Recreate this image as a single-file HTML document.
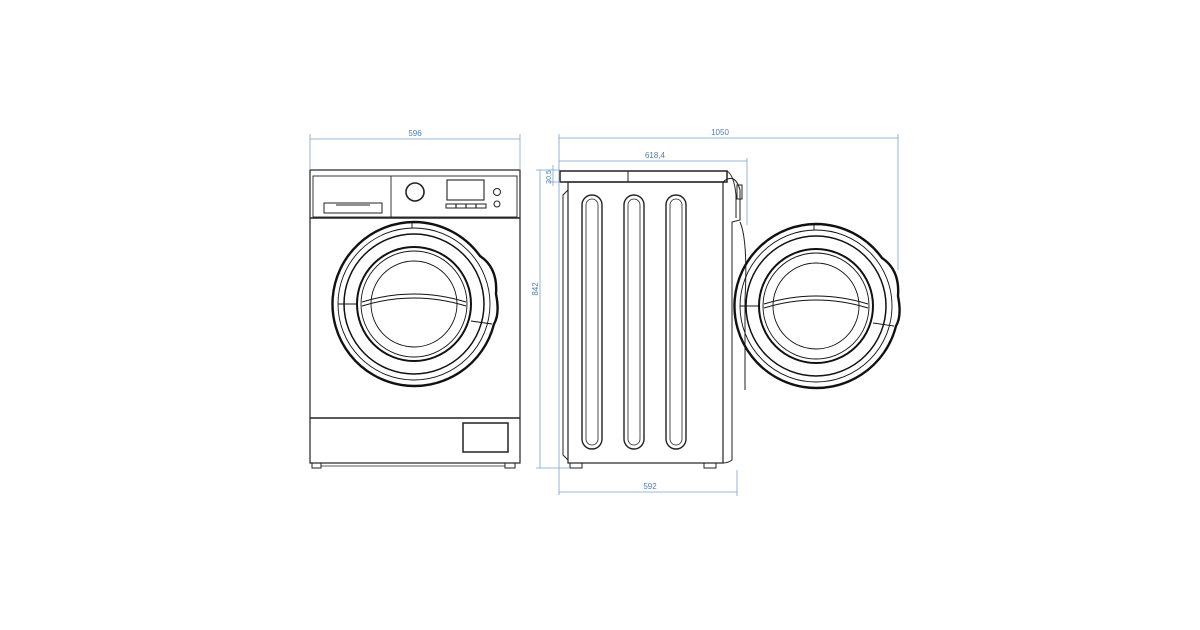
<!DOCTYPE html>
<html><head><meta charset="utf-8"><style>
html,body{margin:0;padding:0;background:#fff;width:1200px;height:630px;overflow:hidden}
svg{display:block}
text{font-family:"Liberation Sans",sans-serif;font-size:8px;fill:#4a7fb5}
</style></head><body>
<svg width="1200" height="630" viewBox="0 0 1200 630" xmlns="http://www.w3.org/2000/svg">
<defs>
<g id="door" fill="none" stroke="#111">
  <path d="M0,-82 A82,82 0 0 1 66,-48 Q84,-36 82,-10 Q86,10 80,20 A82,82 0 1 1 0,-82Z" stroke-width="2.4"/>
  <circle r="76" stroke-width="0.9"/>
  <circle r="70" stroke-width="1.5"/>
  <circle r="57" stroke-width="2"/>
  <circle r="53" stroke-width="0.9"/>
  <circle r="43" stroke-width="0.9"/>
  <line x1="-2" y1="-82" x2="-2" y2="-76" stroke-width="0.9"/>
  <line x1="-76" y1="0" x2="-57" y2="0" stroke-width="0.9"/>
  <line x1="57" y1="17" x2="78" y2="20" stroke-width="0.9"/>
  <path d="M-52,-2 Q0,-18 52,-2" stroke-width="1"/>
  <path d="M-52,2 Q0,-14 52,2" stroke-width="1"/>
</g>
</defs>
<g fill="none" stroke="#222" stroke-width="1.2">
<rect x="310" y="170" width="210" height="293"/>
<rect x="313" y="176" width="204" height="41" stroke-width="0.9"/>
<line x1="310" y1="218" x2="520" y2="218" stroke-width="1.6"/>
<line x1="391" y1="176" x2="391" y2="217" stroke-width="0.9"/>
<rect x="324" y="203" width="58" height="10" stroke-width="1"/>
<line x1="336" y1="205" x2="370" y2="205" stroke-width="1"/>
<circle cx="415" cy="192" r="9" stroke-width="1.6"/>
<rect x="447" y="180" width="37" height="20" stroke-width="1.1"/>
<rect x="446" y="204" width="40" height="4" stroke-width="1"/>
<line x1="456" y1="204" x2="456" y2="208"/><line x1="466" y1="204" x2="466" y2="208"/><line x1="476" y1="204" x2="476" y2="208"/>
<circle cx="497" cy="192" r="3.5" stroke-width="1"/>
<circle cx="497" cy="204" r="3" stroke-width="1"/>
<line x1="310" y1="418" x2="520" y2="418" stroke-width="1.5"/>
<rect x="463" y="423" width="45" height="29" stroke-width="1.5"/>
<rect x="312" y="463" width="9" height="5" stroke-width="1"/>
<rect x="505" y="463" width="10" height="5" stroke-width="1"/>
<line x1="321" y1="466" x2="505" y2="466" stroke-width="0.8"/>
<use href="#door" x="414" y="304"/>
<rect x="560" y="171" width="167" height="11" stroke-width="1.5"/>
<line x1="628" y1="171" x2="628" y2="182" stroke-width="1"/>
<rect x="568" y="182" width="155" height="281"/>
<rect x="582" y="195" width="20" height="254" rx="10" stroke-width="1.4"/>
<rect x="586" y="199" width="12" height="246" rx="6" stroke-width="0.8"/>
<rect x="624" y="195" width="20" height="254" rx="10" stroke-width="1.4"/>
<rect x="628" y="199" width="12" height="246" rx="6" stroke-width="0.8"/>
<rect x="666" y="195" width="20" height="254" rx="10" stroke-width="1.4"/>
<rect x="670" y="199" width="12" height="246" rx="6" stroke-width="0.8"/>
<path d="M568,190 L563,195 L563,455 L568,460" stroke-width="1"/>
<path d="M723,182 Q735,172 740,190 L740,220 L732,222 L732,460 Q728,463 723,463" stroke-width="1"/>
<path d="M727,171 Q734,175 736,195 L736,218" stroke-width="1"/>
<rect x="737" y="185" width="5" height="14" stroke-width="1"/>
<path d="M740,222 Q748,240 745,300 L745,390" stroke-width="1"/>
<rect x="570" y="463" width="12" height="5" stroke-width="1"/>
<rect x="704" y="463" width="12" height="5" stroke-width="1"/>
<use href="#door" x="816" y="306"/>
</g>
<g stroke="#7aa3cc" stroke-width="0.8" fill="none">
<line x1="310" y1="139" x2="520" y2="139"/>
<line x1="310" y1="134" x2="310" y2="170"/><line x1="520" y1="134" x2="520" y2="170"/>
<line x1="559" y1="138" x2="898" y2="138"/>
<line x1="559" y1="134" x2="559" y2="495"/><line x1="898" y1="134" x2="898" y2="270"/>
<line x1="559" y1="161" x2="747" y2="161"/>
<line x1="747" y1="158" x2="747" y2="225"/>
<line x1="559" y1="492" x2="737" y2="492"/>
<line x1="737" y1="470" x2="737" y2="496"/>
<line x1="540" y1="170" x2="540" y2="468"/>
<line x1="536" y1="170" x2="560" y2="170"/><line x1="536" y1="468" x2="570" y2="468"/>
<line x1="553" y1="165" x2="553" y2="186"/>
<line x1="549" y1="182" x2="560" y2="182"/>
</g>
<text x="415" y="136" text-anchor="middle">596</text>
<text x="720" y="135" text-anchor="middle">1050</text>
<text x="655" y="158" text-anchor="middle">618,4</text>
<text x="650" y="489" text-anchor="middle">592</text>
<text transform="translate(538,289) rotate(-90)" text-anchor="middle">842</text>
<text transform="translate(551,177) rotate(-90)" text-anchor="middle" style="font-size:7px">30,5</text>
</svg>
</body></html>
